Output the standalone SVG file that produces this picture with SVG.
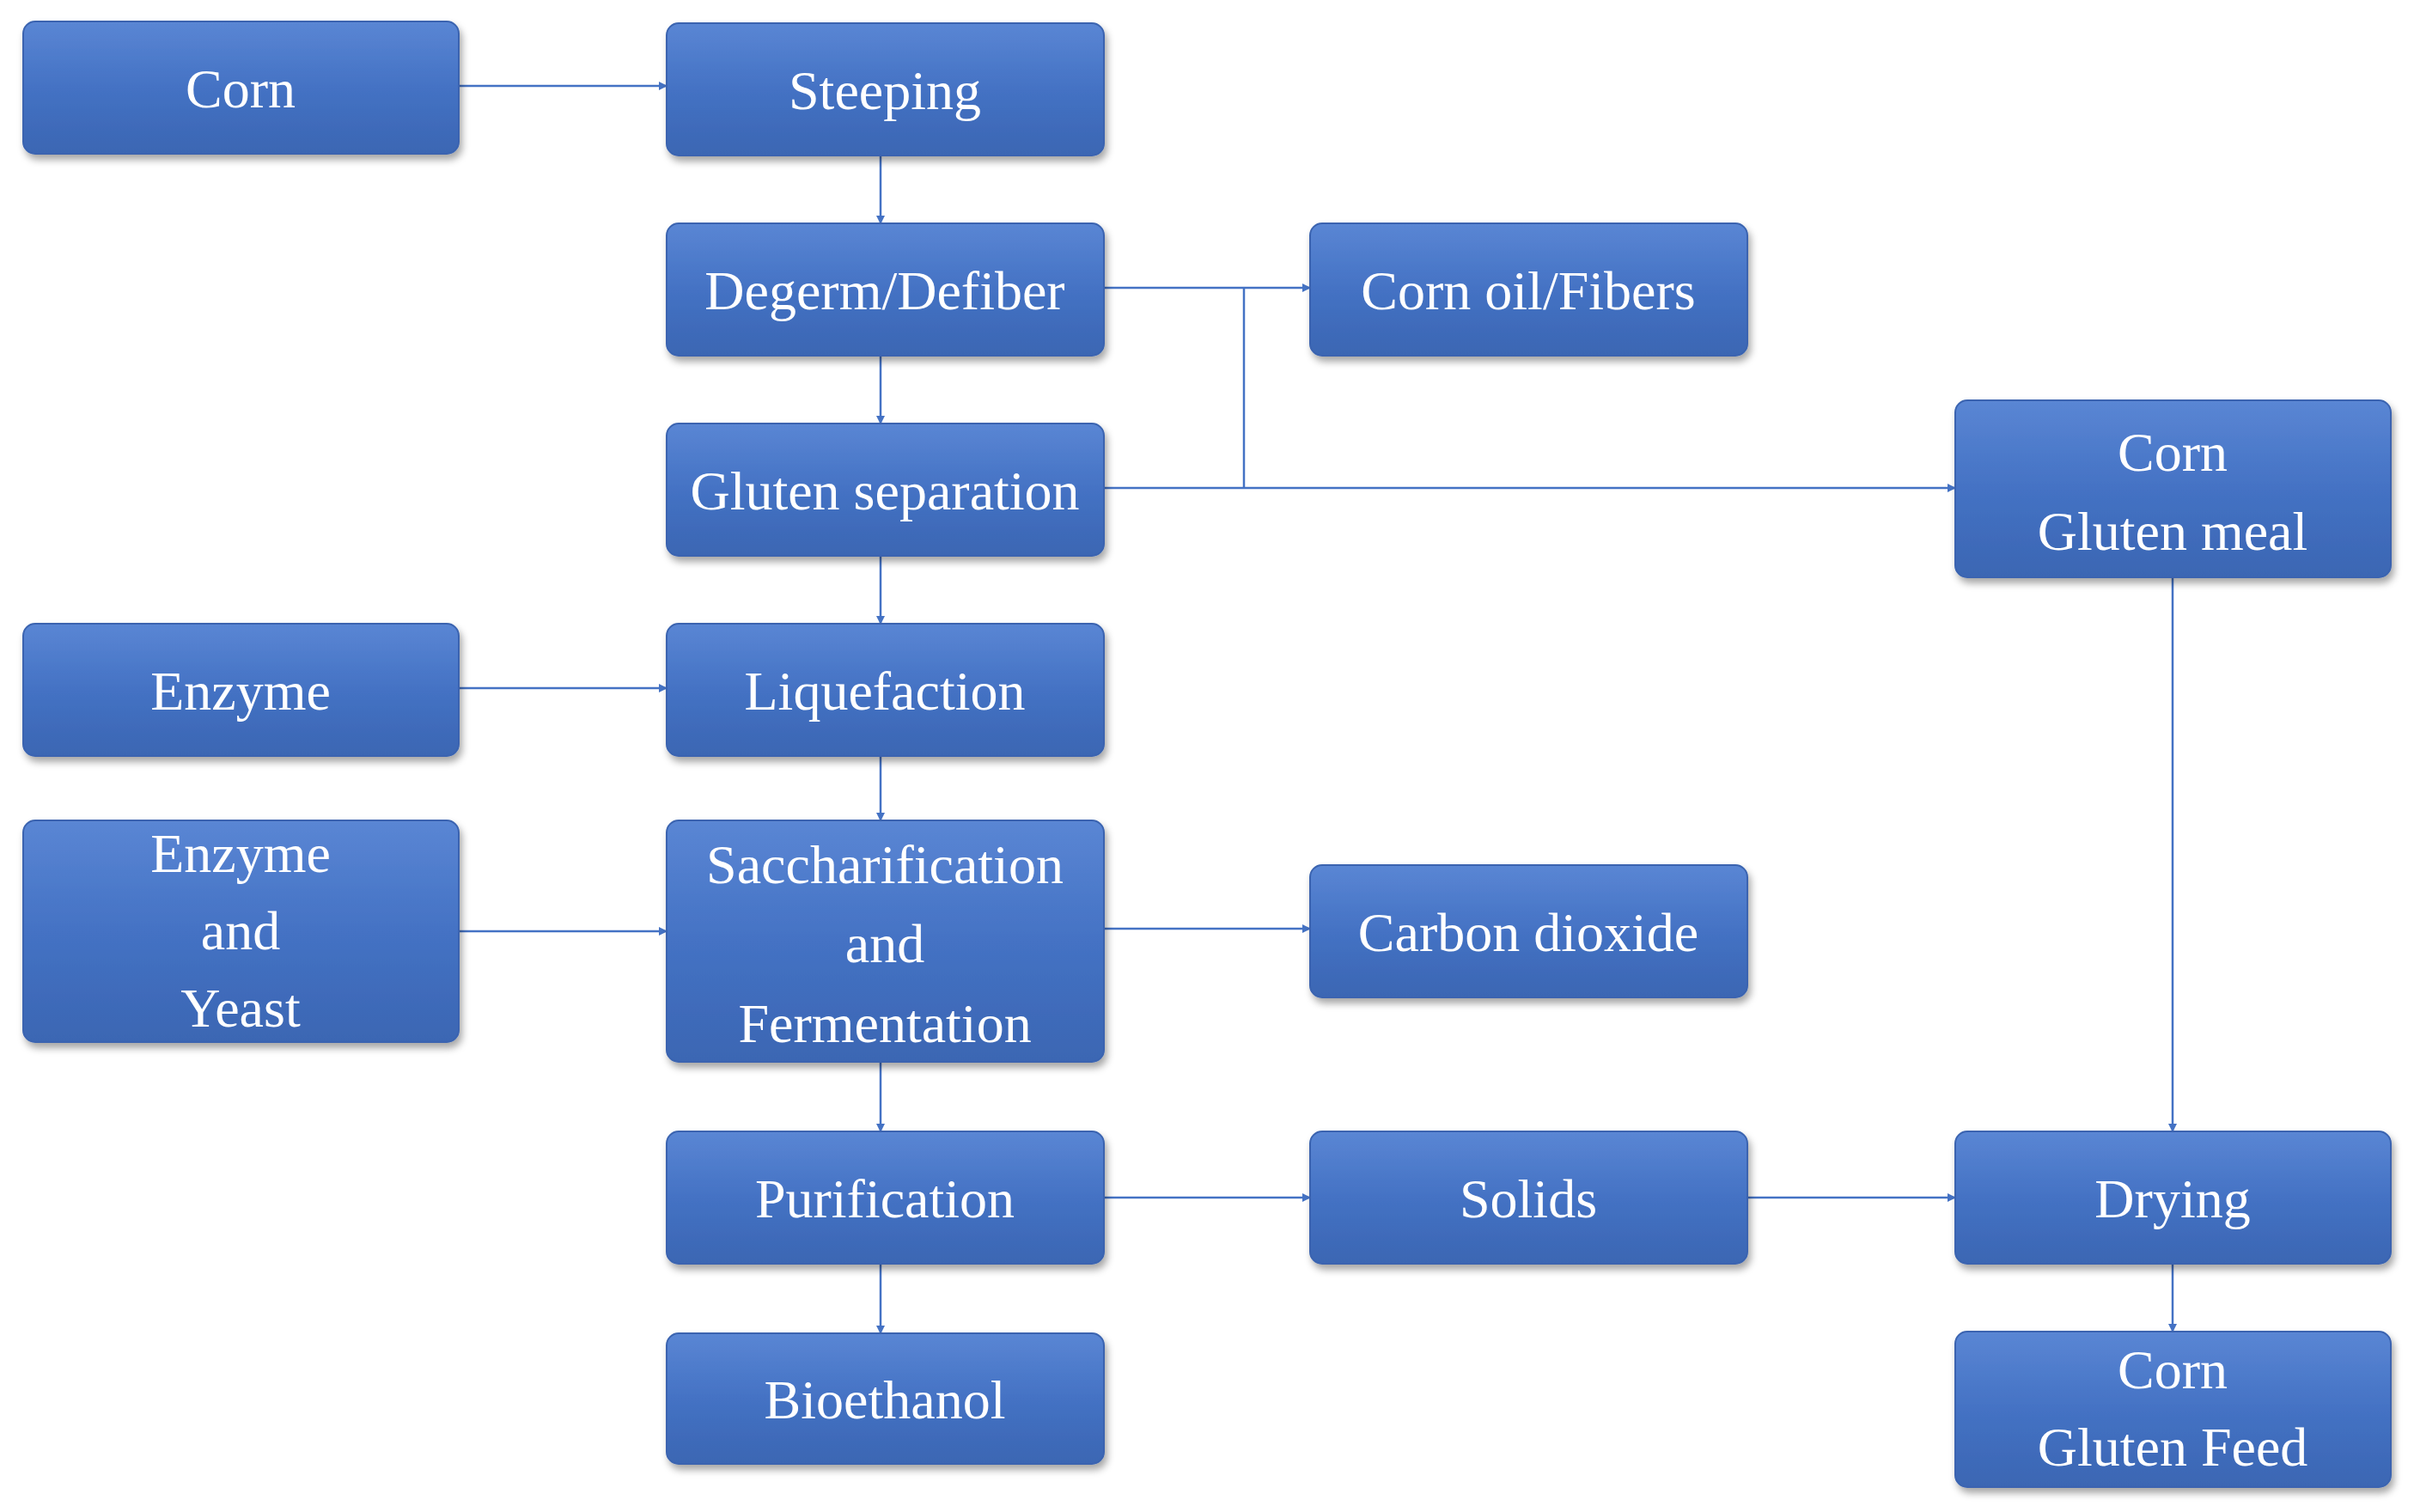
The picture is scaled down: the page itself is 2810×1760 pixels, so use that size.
<svg xmlns="http://www.w3.org/2000/svg" width="2810" height="1760" viewBox="0 0 2810 1760">
<defs>
<linearGradient id="g" x1="0" y1="0" x2="0" y2="1"><stop offset="0" stop-color="#5a86d4"/><stop offset="0.5" stop-color="#4472C4"/><stop offset="1" stop-color="#3b66b3"/></linearGradient>
<filter id="sh" x="-5%" y="-5%" width="112%" height="120%"><feDropShadow dx="3" dy="6" stdDeviation="4" flood-color="#000" flood-opacity="0.35"/></filter>
<marker id="a" markerWidth="10" markerHeight="10" refX="9" refY="5" orient="auto" markerUnits="userSpaceOnUse"><path d="M0,0 L10,5 L0,10 z" fill="#4472C4"/></marker>
</defs>
<style>
.b{fill:url(#g);stroke:#3a64b0;stroke-width:2;filter:url(#sh)}
.t{font-family:"Liberation Serif",serif;font-size:64px;fill:#fff;text-anchor:middle}
.c{stroke:#4472C4;stroke-width:2.5;fill:none}
.m{marker-end:url(#a)}
</style>
<rect width="2810" height="1760" fill="#fff"/>
<g id="connectors">
<path class="c m" d="M534,100 H776"/>
<path class="c m" d="M1025,181 V260"/>
<path class="c m" d="M1025,414 V493"/>
<path class="c m" d="M1025,647 V726"/>
<path class="c m" d="M1025,880 V955"/>
<path class="c m" d="M1025,1236 V1317"/>
<path class="c m" d="M1025,1471 V1552"/>
<path class="c m" d="M1285,335 H1525"/>
<path class="c" d="M1448,335 V568"/>
<path class="c m" d="M1285,568 H2276"/>
<path class="c m" d="M534,801 H776"/>
<path class="c m" d="M534,1084 H776"/>
<path class="c m" d="M1285,1081 H1525"/>
<path class="c m" d="M1285,1394 H1525"/>
<path class="c m" d="M2034,1394 H2276"/>
<path class="c m" d="M2529,672 V1317"/>
<path class="c m" d="M2529,1471 V1550"/>
</g>
<g id="corn"><rect class="b" x="27" y="25" width="507" height="154" rx="14"/><text class="t" x="280" y="125">Corn</text></g>
<g id="steeping"><rect class="b" x="776" y="27" width="509" height="154" rx="14"/><text class="t" x="1030" y="127">Steeping</text></g>
<g id="degerm"><rect class="b" x="776" y="260" width="509" height="154" rx="14"/><text class="t" x="1030" y="360">Degerm/Defiber</text></g>
<g id="gluten"><rect class="b" x="776" y="493" width="509" height="154" rx="14"/><text class="t" x="1030" y="593">Gluten separation</text></g>
<g id="liquefaction"><rect class="b" x="776" y="726" width="509" height="154" rx="14"/><text class="t" x="1030" y="826">Liquefaction</text></g>
<g id="sacch"><rect class="b" x="776" y="955" width="509" height="281" rx="14"/><text class="t" x="1030" y="1028">Saccharification</text><text class="t" x="1030" y="1120">and</text><text class="t" x="1030" y="1213">Fermentation</text></g>
<g id="purification"><rect class="b" x="776" y="1317" width="509" height="154" rx="14"/><text class="t" x="1030" y="1417">Purification</text></g>
<g id="bioethanol"><rect class="b" x="776" y="1552" width="509" height="152" rx="14"/><text class="t" x="1030" y="1651">Bioethanol</text></g>
<g id="enzyme"><rect class="b" x="27" y="726" width="507" height="154" rx="14"/><text class="t" x="280" y="826">Enzyme</text></g>
<g id="enzymeyeast"><rect class="b" x="27" y="955" width="507" height="258" rx="14"/><text class="t" x="280" y="1015">Enzyme</text><text class="t" x="280" y="1105">and</text><text class="t" x="280" y="1195">Yeast</text></g>
<g id="cornoil"><rect class="b" x="1525" y="260" width="509" height="154" rx="14"/><text class="t" x="1779" y="360">Corn oil/Fibers</text></g>
<g id="co2"><rect class="b" x="1525" y="1007" width="509" height="154" rx="14"/><text class="t" x="1779" y="1107">Carbon dioxide</text></g>
<g id="solids"><rect class="b" x="1525" y="1317" width="509" height="154" rx="14"/><text class="t" x="1779" y="1417">Solids</text></g>
<g id="glutenmeal"><rect class="b" x="2276" y="466" width="507" height="206" rx="14"/><text class="t" x="2529" y="548">Corn</text><text class="t" x="2529" y="640">Gluten meal</text></g>
<g id="drying"><rect class="b" x="2276" y="1317" width="507" height="154" rx="14"/><text class="t" x="2529" y="1417">Drying</text></g>
<g id="glutenfeed"><rect class="b" x="2276" y="1550" width="507" height="181" rx="14"/><text class="t" x="2529" y="1616">Corn</text><text class="t" x="2529" y="1706">Gluten Feed</text></g>
</svg>
